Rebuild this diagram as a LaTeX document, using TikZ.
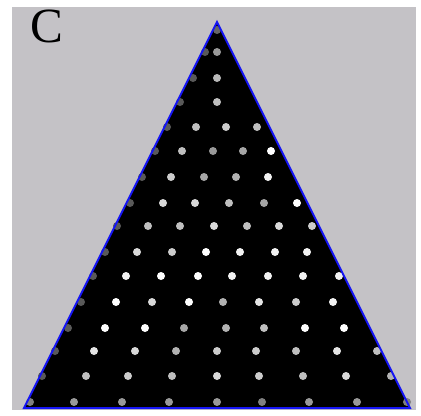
\documentclass[tikz,border=0pt]{standalone}
\usepackage{fontspec}
\setmainfont{Liberation Serif}
\definecolor{bggray}{RGB}{196,194,198}
\definecolor{edgeblue}{RGB}{20,20,245}
\begin{document}
\begin{tikzpicture}[x=0.3mm,y=-0.3mm,
  dot/.style={circle,inner sep=0pt,minimum size=2.4mm},
  edge/.style={draw=edgeblue,line width=0.6mm,line join=miter}]
\useasboundingbox (0,0) rectangle (421,415);
\fill[bggray] (12,7) rectangle (416,410);
\node[font=\fontsize{42}{42}\selectfont,inner sep=0pt,anchor=south west] (lbl) at (30.5,43) {C};
\coordinate (apex) at (217,22);
\coordinate (bl) at (24,408);
\coordinate (br) at (410,408);
\fill[black] (apex) -- (bl) -- (br) -- cycle;
% lattice of dots, x/y/brightness
\foreach \x/\y/\g in {
  217/30/40,
  205/52/35, 217/52/60,
  193/78/35, 217/78/72,
  180/102/35, 217/102/75,
  167/127/35, 196/127/75, 226/127/80, 257/127/75,
  155/151/35, 182/151/75, 213/151/60, 243/151/65, 271/151/100,
  142/177/35, 171/177/80, 204/177/65, 236/177/70, 268/177/95,
  130/203/35, 163/203/85, 195/203/85, 229/203/75, 264/203/65, 297/203/100,
  117/226/35, 148/226/75, 180/226/75, 214/226/85, 247/226/75, 279/226/85, 312/226/80,
  105/252/35, 137/252/85, 172/252/80, 206/252/100, 240/252/95, 275/252/95, 307/252/95,
  93/276/35, 126/276/95, 161/276/100, 198/276/100, 232/276/95, 268/276/95, 303/276/95, 339/276/95,
  81/302/35, 116/302/100, 152/302/85, 189/302/100, 223/302/70, 259/302/90, 296/302/80, 333/302/95,
  68/328/35, 105/328/100, 145/328/100, 184/328/65, 226/328/70, 264/328/75, 305/328/100, 344/328/100,
  55/351/35, 94/351/90, 135/351/85, 176/351/70, 217/351/80, 256/351/80, 296/351/75, 337/351/90, 377/351/75,
  42/376/35, 86/376/75, 128/376/80, 172/376/75, 217/376/85, 259/376/80, 303/376/75, 346/376/85, 391/376/70,
  30/402/50, 74/402/60, 122/402/60, 169/402/60, 217/402/60, 262/402/50, 309/402/60, 357/402/60, 407/402/50}
  \node[dot,fill=white!\g!black] at (\x,\y) {};
\draw[edge] (apex) -- (bl) -- (br) -- cycle;
\end{tikzpicture}
\end{document}
